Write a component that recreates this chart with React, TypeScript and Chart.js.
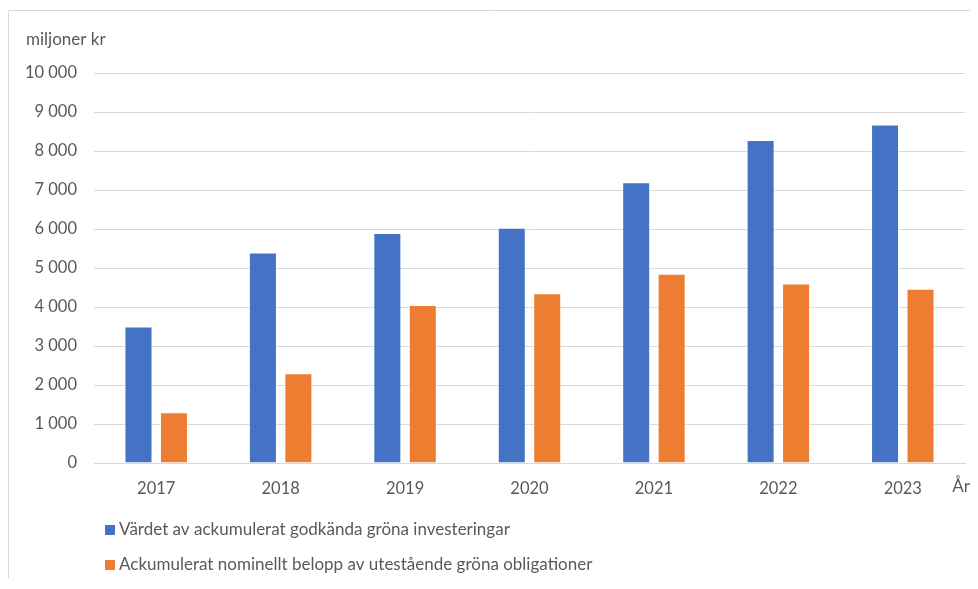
import React, { useEffect, useRef } from "react";
import { Chart, registerables } from "chart.js";

Chart.register(...registerables);

const years = ["2017", "2018", "2019", "2020", "2021", "2022", "2023"];
const investeringar = [3500, 5400, 5900, 6030, 7200, 8280, 8680];
const obligationer = [1300, 2300, 4050, 4350, 4850, 4600, 4470];
const seriesLabels = [
  "Värdet av ackumulerat godkända gröna investeringar",
  "Ackumulerat nominellt belopp av utestående gröna obligationer",
];
const yTitle = "miljoner kr";
const xTitle = "År";

const FONT = "Lato, 'Open Sans', sans-serif";
const TEXT = "#595959";
const W = 970;
const H = 570;

function fmt(v: number): string {
  return String(v).replace(/\B(?=(\d{3})+(?!\d))/g, " ");
}

const extras = {
  id: "extras",
  afterDraw(chart: any) {
    const ctx = chart.ctx;
    ctx.save();
    // frame border (top & left)
    ctx.strokeStyle = "#d9d9d9";
    ctx.lineWidth = 1;
    ctx.beginPath();
    ctx.moveTo(0.5, chart.height);
    ctx.lineTo(0.5, 2.5);
    ctx.lineTo(chart.width, 2.5);
    ctx.stroke();

    ctx.fillStyle = TEXT;
    ctx.font = `17px ${FONT}`;
    ctx.textBaseline = "middle";
    ctx.textAlign = "left";
    ctx.fillText(yTitle, 18, 32);
    ctx.textAlign = "right";
    ctx.fillText(xTitle, 962, 479);
    ctx.textAlign = "left";

    // legend
    chart.data.datasets.forEach((ds: any, i: number) => {
      const y = 522 + i * 35;
      ctx.fillStyle = ds.backgroundColor;
      ctx.fillRect(97, y - 5, 10, 10);
      ctx.fillStyle = TEXT;
      ctx.fillText(ds.label, 111, y);
    });
    ctx.restore();
  },
};

export default function App() {
  const ref = useRef<HTMLCanvasElement>(null);
  useEffect(() => {
    document.body.style.overflow = "hidden";
    if (!ref.current) return;
    const chart = new Chart(ref.current, {
      type: "bar",
      data: {
        labels: years,
        datasets: [
          {
            label: seriesLabels[0],
            data: investeringar,
            backgroundColor: "#4472C4",
            borderColor: "rgba(255,255,255,0.5)",
            borderWidth: 1,
            categoryPercentage: 0.57,
            barPercentage: 0.79,
          },
          {
            label: seriesLabels[1],
            data: obligationer,
            backgroundColor: "#ED7D31",
            borderColor: "rgba(255,255,255,0.5)",
            borderWidth: 1,
            categoryPercentage: 0.57,
            barPercentage: 0.79,
          },
        ],
      },
      options: {
        responsive: false,
        animation: false,
        layout: { padding: { left: 0, top: 65, right: 13, bottom: 0 } },
        plugins: {
          legend: { display: false },
          tooltip: { enabled: false },
          title: { display: false },
        },
        scales: {
          x: {
            grid: { display: false, drawTicks: false },
            border: { display: true, color: "#d9d9d9", width: 1 },
            ticks: {
              color: TEXT,
              font: { family: FONT, size: 16.5 },
              padding: 16,
            },
            afterFit(scale: any) {
              scale.height = H - 455;
            },
          },
          y: {
            min: 0,
            max: 10000,
            grid: { color: "#d9d9d9", lineWidth: 1, drawTicks: false },
            border: { display: false },
            ticks: {
              stepSize: 1000,
              color: TEXT,
              font: { family: FONT, size: 16.5 },
              padding: 17,
              callback: (v: any) => fmt(Number(v)),
            },
            afterFit(scale: any) {
              scale.width = 86;
            },
          },
        },
      },
      plugins: [extras],
    });
    return () => chart.destroy();
  }, []);
  return <canvas ref={ref} width={W} height={H} style={{ display: "block" }} />;
}
